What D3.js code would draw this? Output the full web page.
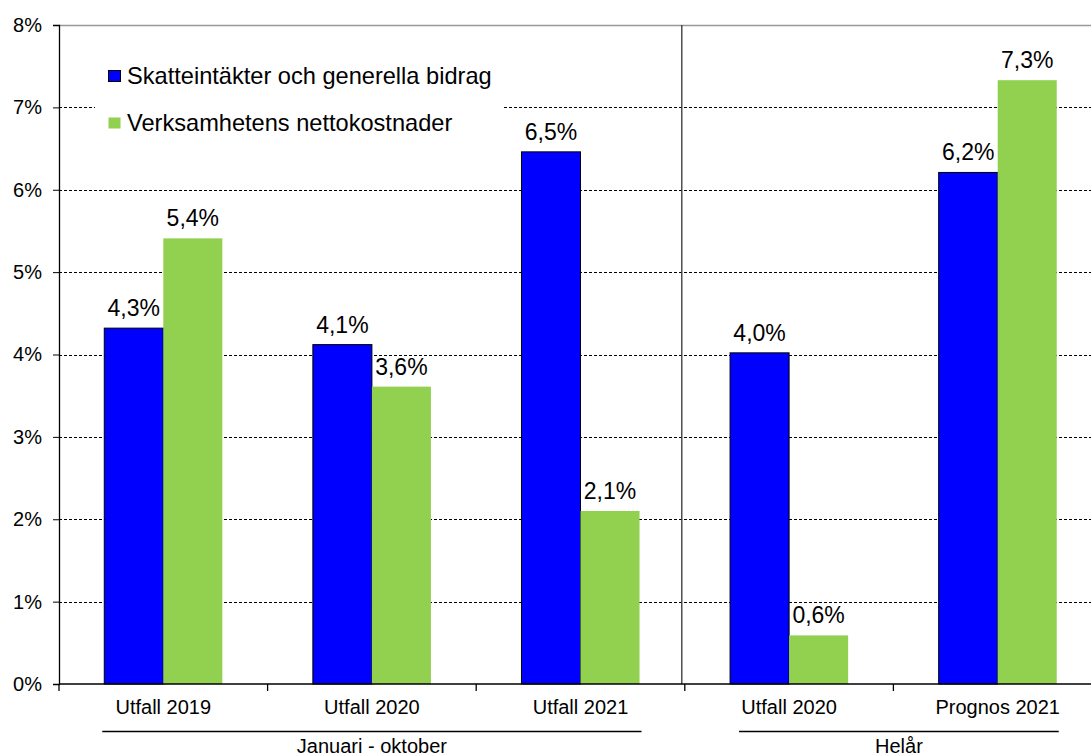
<!DOCTYPE html>
<html>
<head>
<meta charset="utf-8">
<script src="https://cdn.jsdelivr.net/npm/d3@7"></script>
<style>
  body { margin: 0; background: #fff; }
  text { font-family: "Liberation Sans", Arial, sans-serif; fill: #000; }
</style>
</head>
<body>
<div id="chart"></div>
<script>
// data
var categories = ["Utfall 2019", "Utfall 2020", "Utfall 2021", "Utfall 2020", "Prognos 2021"]
var skatter = [4.32, 4.12, 6.46, 4.02, 6.21]
var kostnader = [5.41, 3.61, 2.10, 0.59, 7.33]
var seriesNames = ["Skatteintäkter och generella bidrag", "Verksamhetens nettokostnader"]
var groups = [{name: "Januari - oktober", from: 0, to: 2}, {name: "Helår", from: 3, to: 4}]
var yTicks = [0, 1, 2, 3, 4, 5, 6, 7, 8]

var w = 1091
var h = 756
var mLeft = 59, mTop = 25, mBottom = 684, mRight = 1102
var colors = ["#0000ff", "#92d050"]

var svg = d3.select("#chart").append("svg").attr("width", w).attr("height", h)

var yScale = d3.scaleLinear().domain([0, 8]).range([mBottom, mTop])
var xScale = d3.scaleBand().domain(d3.range(categories.length)).range([mLeft, mRight])
var bw = xScale.bandwidth() * 0.283

// top border
svg.append("line")
  .attr("x1", mLeft).attr("x2", w).attr("y1", mTop + 0.5).attr("y2", mTop + 0.5)
  .attr("stroke", "#999").attr("stroke-width", 1.5)

// gridlines
svg.selectAll(".grid")
  .data(yTicks.filter(function(d){ return d > 0 && d < 8 }))
  .enter()
  .append("line")
  .attr("class", "grid")
  .attr("x1", mLeft).attr("x2", w)
  .attr("y1", function(d){ return Math.round(yScale(d)) + 0.5 })
  .attr("y2", function(d){ return Math.round(yScale(d)) + 0.5 })
  .attr("stroke", "#000").attr("stroke-width", 1)
  .attr("stroke-dasharray", "3,2")

// separator between periods
var sepX = xScale(3) - 3
svg.append("line")
  .attr("x1", sepX).attr("x2", sepX).attr("y1", mTop).attr("y2", mBottom)
  .attr("stroke", "#333").attr("stroke-width", 1.3)

// legend (white box over the grid)
var legend = svg.append("g")
legend.append("rect").attr("x", 95).attr("y", 52).attr("width", 408).attr("height", 96).attr("fill", "#fff")
seriesNames.forEach(function(name, i){
  var yy = 76 + i * 47
  legend.append("rect")
    .attr("x", 108.5).attr("y", yy - 5.5).attr("width", 12).attr("height", 11)
    .attr("fill", colors[i])
    .attr("stroke", i == 0 ? "#000" : "none").attr("stroke-width", 1)
  legend.append("text")
    .attr("x", 127).attr("y", yy + 8)
    .style("font-size", "23.6px")
    .text(name)
})

// bars
var series = [skatter, kostnader]
series.forEach(function(values, s){
  svg.selectAll(".bar" + s)
    .data(values)
    .enter()
    .append("rect")
    .attr("class", "bar" + s)
    .attr("x", function(d, i){ return xScale(i) + xScale.bandwidth() / 2 - bw + s * bw })
    .attr("y", function(d){ return yScale(d) })
    .attr("width", bw)
    .attr("height", function(d){ return mBottom - yScale(d) })
    .attr("fill", colors[s])
    .attr("stroke", s == 0 ? "#000" : "none")
    .attr("stroke-width", 1)

  svg.selectAll(".label" + s)
    .data(values)
    .enter()
    .append("text")
    .attr("class", "label" + s)
    .attr("x", function(d, i){ return xScale(i) + xScale.bandwidth() / 2 - bw / 2 + s * bw })
    .attr("y", function(d){ return yScale(d) - 12 })
    .attr("text-anchor", "middle")
    .style("font-size", "23px")
    .text(function(d){ return d3.format(".1f")(d).replace(".", ",") + "%" })
})

// y axis
var yAxis = svg.append("g")
  .attr("transform", "translate(" + mLeft + ",0)")
  .call(d3.axisLeft(yScale).tickValues(yTicks).tickSize(6).tickPadding(11)
    .tickFormat(function(d){ return d + "%" }))
yAxis.select(".domain").attr("stroke", "#000").attr("stroke-width", 1.3)
yAxis.selectAll("line").attr("stroke", "#000")
yAxis.selectAll("text").style("font-size", "20px").style("font-family", "Liberation Sans, Arial, sans-serif").attr("fill", "#000")

// x axis
var xAxis = svg.append("g")
  .attr("transform", "translate(0," + mBottom + ")")
xAxis.append("line")
  .attr("x1", mLeft).attr("x2", w).attr("y1", 0).attr("y2", 0)
  .attr("stroke", "#000").attr("stroke-width", 1.3)
xAxis.selectAll(".tick")
  .data(d3.range(categories.length))
  .enter()
  .append("line")
  .attr("x1", function(d){ return xScale(d) }).attr("x2", function(d){ return xScale(d) })
  .attr("y1", 0).attr("y2", 7)
  .attr("stroke", "#000").attr("stroke-width", 1.3)
xAxis.selectAll(".cat")
  .data(categories)
  .enter()
  .append("text")
  .attr("x", function(d, i){ return xScale(i) + xScale.bandwidth() / 2 })
  .attr("y", 30)
  .attr("text-anchor", "middle")
  .style("font-size", "20px")
  .text(function(d){ return d })

// group labels
groups.forEach(function(g, k){
  var x1 = xScale(g.from) + xScale.bandwidth() / 2 - bw - 2 + (k == 1 ? 11 : 0)
  var x2 = xScale(g.to) + xScale.bandwidth() / 2 + bw + 2
  svg.append("line")
    .attr("x1", x1).attr("x2", x2).attr("y1", 731.5).attr("y2", 731.5)
    .attr("stroke", "#000").attr("stroke-width", 1.3)
  svg.append("text")
    .attr("x", (x1 + x2) / 2).attr("y", 753)
    .attr("text-anchor", "middle")
    .style("font-size", "20px")
    .text(g.name)
})
</script>
</body>
</html>
